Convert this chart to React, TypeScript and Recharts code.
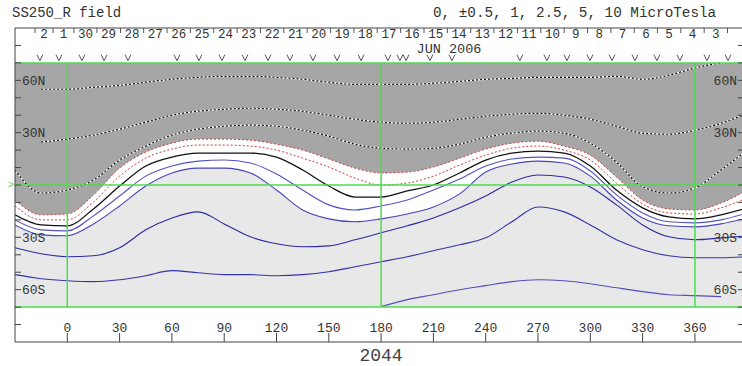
import { ComposedChart, Area, Line, Scatter, XAxis, YAxis, ReferenceLine } from "recharts";

// Carrington longitude grid of the traced contours
const lons = [-30, -15, 0, 15, 30, 45, 60, 75, 90, 105, 120, 135, 150, 165, 180, 195, 210, 225, 240, 255, 270, 285, 300, 315, 330, 345, 360, 375, 390];

// positive field contours (latitude, deg)
const pos10 = [null, 54.9, 54.9, 56.0, 57.1, 58.9, 60.6, 61.7, 62.3, 62.3, 61.7, 60.6, 58.9, 57.7, 57.7, 57.7, 58.3, 59.4, 60.6, 61.1, 61.7, 61.7, 61.7, 62.3, 60.6, 62.9, 67.1, 70, null];
const pos5 = [null, 24.6, 26.3, 28.6, 32.0, 36.0, 40.0, 42.3, 43.4, 44.0, 43.4, 42.3, 40.0, 37.7, 36.0, 35.4, 36.0, 37.7, 39.4, 40.6, 41.1, 40.0, 37.7, 33.7, 29.7, 29.1, 31.4, 35.4, 41.1];
const pos2p5 = [8.6, -4.6, -2.9, 2.9, 14.3, 22.3, 28.6, 32.0, 33.7, 34.3, 33.7, 31.4, 28.0, 23.4, 21.1, 20.6, 21.1, 23.4, 27.4, 29.7, 30.9, 29.7, 24.0, 13.1, -1.1, -4.6, -1.7, 8.6, 20.0];
const pos1 = [-8.6, -17.1, -16.6, -5.7, 9.7, 18.9, 24.0, 26.3, 26.3, 25.7, 23.4, 20.0, 14.9, 9.7, 6.9, 7.4, 10.3, 15.4, 20.6, 24.0, 25.1, 22.3, 17.1, 4.6, -8.6, -13.7, -14.3, -10.3, -2.9];
const pos05 = [-12.0, -20.0, -20.0, -9.7, 5.1, 15.4, 20.6, 22.9, 22.9, 22.3, 20.0, 15.4, 10.3, 4.0, 0.0, 1.1, 5.1, 11.4, 17.1, 21.1, 22.3, 20.0, 14.3, 1.1, -10.9, -16.0, -16.6, -13.1, -7.4];
// neutral line
const neutral = [-17.1, -22.9, -23.4, -13.7, -0.6, 10.9, 16.0, 18.3, 18.3, 18.3, 16.0, 8.6, -0.6, -6.9, -6.9, -3.4, 0.0, 6.9, 14.3, 18.3, 19.4, 18.3, 10.9, -2.9, -13.1, -18.3, -19.4, -17.1, -13.1];
// negative field contours
const neg05 = [-20.0, -25.7, -26.3, -17.7, -6.3, 5.1, 10.9, 13.7, 14.3, 12.6, 6.3, -2.9, -11.4, -14.3, -12.0, -8.6, -2.9, 3.4, 10.9, 14.9, 16.0, 15.4, 8.0, -5.7, -16.0, -21.1, -21.7, -20.0, -16.0];
const neg1 = [-22.9, -28.6, -29.1, -22.3, -12.0, -0.6, 6.9, 9.7, 9.7, 6.9, -2.9, -14.3, -19.4, -21.1, -19.4, -16.6, -12.6, -5.1, 7.4, 12.0, 13.7, 12.6, 5.1, -8.6, -18.9, -23.4, -24.0, -22.3, -18.9];
const neg2p5 = [-36.0, -39.4, -41.1, -40.6, -36.0, -25.7, -18.9, -15.4, -22.3, -29.7, -33.7, -35.4, -34.9, -31.4, -27.4, -23.4, -18.9, -13.1, -6.3, 1.7, 5.7, 4.6, -1.1, -11.4, -22.9, -29.7, -31.4, -30.3, -29.1];
const neg5 = [-51.4, -53.7, -54.9, -55.4, -54.3, -52.0, -49.1, -50.3, -51.4, -51.4, -52.0, -51.4, -49.7, -46.9, -44.0, -41.1, -37.7, -34.3, -30.3, -21.1, -12.6, -15.4, -22.9, -31.4, -37.1, -40.6, -41.7, -41.7, -41.1];
const neg10 = [null, null, null, null, null, null, null, null, null, null, null, null, null, null, -69.7, -65.7, -62.9, -60.0, -57.7, -55.4, -54.3, -54.9, -56.6, -58.9, -61.1, -62.9, -63.4, -64.0, null];

const lonTicks = [0, 30, 60, 90, 120, 150, 180, 210, 240, 270, 300, 330, 360];
const latTicks = [-80, -70, -60, -50, -40, -30, -20, -10, 0, 10, 20, 30, 40, 50, 60, 70, 80];

// days of June 2006 along the top
const dayLabels = ["2", "1", "30", "29", "28", "27", "26", "25", "24", "23", "22", "21", "20", "19", "18", "17", "16", "15", "14", "13", "12", "11", "10", "9", "8", "7", "6", "5", "4", "3"];
const dayLons = [-13.4, -2.2, 10.4, 23.7, 37.1, 50.5, 63.9, 77.3, 90.7, 104.1, 117.5, 130.9, 144.3, 157.7, 171.1, 184.5, 197.9, 211.3, 224.7, 238.1, 251.5, 264.9, 278.3, 291.7, 305.1, 318.5, 331.9, 345.2, 358.6, 372.0];
const dayEdges = [-18.5, -8.2, 3.8, 17.0, 30.5, 43.8, 57.2, 70.6, 84.0, 97.4, 110.8, 124.2, 137.6, 151.0, 164.4, 177.8, 191.2, 204.6, 218.0, 231.4, 244.7, 258.2, 271.6, 285.0, 298.4, 311.8, 325.2, 338.5, 351.9, 365.3, 378.7];
// observation marks ("v")
const obsLons = [-15.7, -4.8, 8.4, 21.1, 34.8, 62.9, 75.5, 88.7, 101.9, 115.1, 127.7, 140.9, 154.7, 168.5, 183.9, 190.8, 194.3, 208.0, 220.6, 259.6, 275.1, 286.6, 299.8, 312.4, 325.6, 338.2, 351.4, 366.9, 379.0];

const FONT = "'Liberation Mono', 'DejaVu Sans Mono', monospace";
const GREEN = "#4ddc4d";
const TXT = "#333";

const latLabel = (v: number) => (v !== 0 && Math.abs(v) % 30 === 0 ? `${Math.abs(v)}${v > 0 ? "N" : "S"}` : "");

const Vee = (p: any) => (
  <path d={`M${p.cx - 3},${p.cy - 3}L${p.cx},${p.cy + 3}L${p.cx + 3},${p.cy - 3}`} stroke="#555" fill="none" strokeWidth={1} />
);

// top axis: day boundaries get a short mark, day centres get the date
const DayTick = (p: any) => {
  const v = p.payload.value;
  const i = dayLons.indexOf(v);
  if (i < 0) return <line x1={p.x} x2={p.x} y1={p.y} y2={p.y + 5} stroke="#555" />;
  return (
    <text x={p.x} y={p.y + 10} textAnchor="middle" fontSize={12.5} fill={TXT} fontFamily={FONT}>
      {dayLabels[i]}
    </text>
  );
};

export default function App() {
  const data = lons.map((lon, i) => ({
    lon,
    bg: [-70, 70],
    band: [neg1[i], pos1[i]],
    gray: [pos1[i], 70],
    p10: pos10[i],
    p5: pos5[i],
    p25: pos2p5[i],
    p1: pos1[i],
    p05: pos05[i],
    n0: neutral[i],
    m05: neg05[i],
    m1: neg1[i],
    m25: neg2p5[i],
    m5: neg5[i],
    m10: neg10[i]
  }));
  const obs = obsLons.map((lon) => ({ lon, lat: 73 }));
  const topTicks = [...dayEdges, ...dayLons].sort((a, b) => a - b);

  const dotted = (key: string) => [
    <Line key={key + "w"} dataKey={key} type="monotone" stroke="#fff" strokeWidth={1.2} dot={false} activeDot={false} isAnimationActive={false} />,
    <Line key={key + "b"} dataKey={key} type="monotone" stroke="#111" strokeWidth={1.2} strokeDasharray="2 2" dot={false} activeDot={false} isAnimationActive={false} />
  ];
  const solid = (key: string, color: string, w = 1.1) => (
    <Line key={key} dataKey={key} type="monotone" stroke={color} strokeWidth={w} dot={false} activeDot={false} isAnimationActive={false} />
  );

  return (
    <div style={{ position: "fixed", left: 0, top: 0, width: 742, height: 366, background: "#fff", overflow: "hidden" }}>
      <ComposedChart width={742} height={366} data={data} margin={{ top: 28, right: 0, bottom: 24, left: 15 }}>
        <XAxis dataKey="lon" type="number" domain={[-30, 387]} allowDataOverflow ticks={lonTicks} interval={0} mirror
          tickSize={9} tickMargin={1} stroke="#444" tick={{ fontSize: 13, fill: TXT, fontFamily: FONT }} />
        <XAxis xAxisId="top" orientation="top" dataKey="lon" type="number" domain={[-30, 387]} allowDataOverflow
          ticks={topTicks} interval={0} mirror tickLine={false} tickSize={0} tickMargin={0} stroke="#444" tick={<DayTick />} />
        <YAxis type="number" domain={[-90, 90]} allowDataOverflow ticks={latTicks} interval={0} mirror tickSize={6} tickMargin={1} stroke="#444"
          tickFormatter={latLabel} tick={{ fontSize: 13, fill: TXT, fontFamily: FONT }} />
        <YAxis yAxisId="r" orientation="right" type="number" domain={[-90, 90]} allowDataOverflow ticks={latTicks} interval={0} mirror axisLine={false}
          tickSize={4} tickMargin={1} stroke="#444" tickFormatter={latLabel} tick={{ fontSize: 13, fill: TXT, fontFamily: FONT }} />

        <Area dataKey="bg" type="monotone" stroke="none" fill="#e8e8e8" fillOpacity={1} isAnimationActive={false} activeDot={false} />
        <Area dataKey="band" type="monotone" stroke="none" fill="#ffffff" fillOpacity={1} isAnimationActive={false} activeDot={false} />
        <Area dataKey="gray" type="monotone" stroke="none" fill="#a6a6a6" fillOpacity={1} isAnimationActive={false} activeDot={false} />

        {dotted("p10")}
        {dotted("p5")}
        {dotted("p25")}
        <Line dataKey="p1" type="monotone" stroke="#cc4040" strokeWidth={1} strokeDasharray="2 2" dot={false} activeDot={false} isAnimationActive={false} />
        <Line dataKey="p05" type="monotone" stroke="#cc4040" strokeWidth={1} strokeDasharray="2 2" dot={false} activeDot={false} isAnimationActive={false} />
        {solid("n0", "#111", 1.3)}
        {solid("m05", "#5252c4")}
        {solid("m1", "#4646b8")}
        {solid("m25", "#2a2aa2")}
        {solid("m5", "#3434aa")}
        {solid("m10", "#5050bc")}

        <ReferenceLine y={70} stroke={GREEN} strokeWidth={1.5} />
        <ReferenceLine y={-70} stroke={GREEN} strokeWidth={1.5} />
        <ReferenceLine y={0} stroke={GREEN} strokeWidth={1.5} />
        <ReferenceLine segment={[{ x: 0, y: -70 }, { x: 0, y: 70 }]} stroke={GREEN} strokeWidth={1.5} />
        <ReferenceLine segment={[{ x: 180, y: -70 }, { x: 180, y: 70 }]} stroke={GREEN} strokeWidth={1.5} />
        <ReferenceLine segment={[{ x: 360, y: -70 }, { x: 360, y: 70 }]} stroke={GREEN} strokeWidth={1.5} />

        <Scatter data={obs} dataKey="lat" xAxisId="top" yAxisId="r" shape={Vee} isAnimationActive={false} />

        <text x={12} y={17} fontSize={14} fill={TXT} fontFamily={FONT}>SS250_R field</text>
        <text x={433} y={17} fontSize={14.3} fill={TXT} fontFamily={FONT}>0, ±0.5, 1, 2.5, 5, 10 MicroTesla</text>
        <text x={449} y={53} fontSize={13.5} fill={TXT} fontFamily={FONT} textAnchor="middle">JUN 2006</text>
        <text x={381} y={361} fontSize={18} fill="#444" fontFamily={FONT} textAnchor="middle">2044</text>
        <text x={8} y={188} fontSize={10} fill={GREEN} fontFamily={FONT}>&gt;</text>
      </ComposedChart>
    </div>
  );
}
